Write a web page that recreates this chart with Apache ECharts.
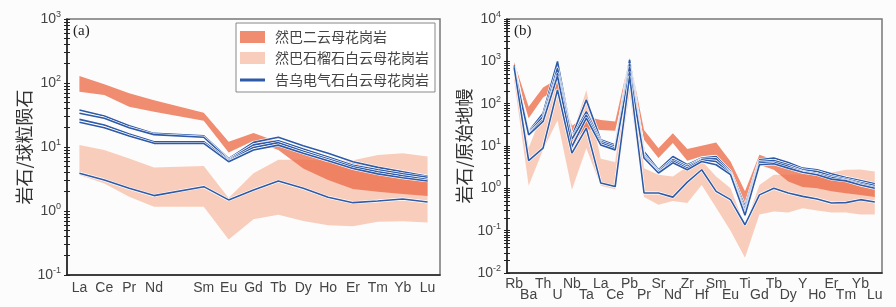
<!DOCTYPE html>
<html>
<head>
<meta charset="utf-8">
<script src="https://cdn.jsdelivr.net/npm/echarts@6/dist/echarts.min.js"></script>
<style>
  html, body { margin: 0; padding: 0; background: #fcfcfc; }
  #chart { width: 896px; height: 307px; }
</style>
</head>
<body>
<div id="chart"></div>
<script>
// (a) REE, chondrite normalised ('' = Pm slot)
const reeLabels = ['La', 'Ce', 'Pr', 'Nd', '', 'Sm', 'Eu', 'Gd', 'Tb', 'Dy', 'Ho', 'Er', 'Tm', 'Yb', 'Lu'];
const darkTopA = [129, 96, 69, 54, null, 34.4, 12.1, 16.5, 12.0, 8.5, 6.6, 5.6, 4.5, 3.8, 3.2];
const darkBotA = [73, 65, 42.7, 35.6, null, 25.7, 8.2, 12.5, 9.0, 4.6, 3.05, 2.2, 2.0, 1.85, 1.72];
const lightTopA = [10.7, 9.0, 6.6, 4.8, null, 5.05, 1.6, 3.9, 6.3, 6.3, 6.1, 6.2, 7.5, 8.0, 7.1];
const lightBotA = [3.65, 2.7, 1.67, 1.17, null, 1.17, 0.36, 0.74, 0.87, 0.70, 0.60, 0.58, 0.68, 0.69, 0.66];
const blueA = [
  [37.9, 30.5, 21.5, 16.3, null, 14.9, 6.6, 11.8, 14.2, 10.5, 8.0, 5.9, 4.8, 4.1, 3.5],
  [33.6, 28.1, 20, 15.6, null, 14.2, 6.3, 10.8, 12.5, 9.3, 7.0, 5.2, 4.4, 3.8, 3.35],
  [27, 22, 16, 12.1, null, 12.1, 6.1, 9.8, 11.7, 8.6, 6.5, 4.9, 4.1, 3.55, 3.1],
  [24.3, 20, 14.9, 11.4, null, 11.4, 5.9, 9.0, 10.7, 8.0, 6.1, 4.6, 3.8, 3.3, 2.95],
  [3.9, 3.05, 2.26, 1.74, null, 2.4, 1.49, 2.13, 2.94, 2.26, 1.64, 1.35, 1.43, 1.54, 1.38]
];

// (b) trace elements, primitive mantle normalised
const traceLabels = ['Rb', 'Ba', 'Th', 'U', 'Nb', 'Ta', 'La', 'Ce', 'Pb', 'Pr', 'Sr', 'Nd', 'Zr', 'Hf', 'Sm', 'Eu', 'Ti', 'Gd', 'Tb', 'Dy', 'Y', 'Ho', 'Er', 'Tm', 'Yb', 'Lu'];
const darkTopB = [950, 85, 240, 380, 30, 50, 41, 38, 1200, 24, 8.9, 20, 8.5, 10.1, 12.1, 4.3, 0.85, 6.2, 4.7, 3.3, 2.65, 2.37, 1.85, 1.6, 1.33, 1.15];
const darkBotB = [600, 45, 140, 230, 13, 25, 24, 23, 700, 14, 5.2, 11.7, 4.5, 5.7, 6.2, 2.5, 0.375, 3.6, 2.75, 1.45, 1.07, 1.0, 0.85, 0.77, 0.70, 0.62];
const lightTopB = [900, 9, 65, 520, 17, 210, 5, 4.2, 1150, 3.0, 2.1, 1.9, 3.3, 4.5, 1.9, 1.0, 0.13, 1.2, 2.1, 2.1, 2.1, 2.1, 2.37, 2.75, 2.8, 2.5];
const lightBotB = [350, 1.15, 8.1, 40, 0.93, 8.9, 1.15, 0.95, 177, 0.62, 0.41, 0.5, 0.45, 1.2, 0.35, 0.1, 0.023, 0.24, 0.285, 0.27, 0.34, 0.30, 0.27, 0.27, 0.24, 0.24];
const blueB = [
  [800, 22, 59.5, 990, 16.7, 123, 14, 10.6, 1080, 7.4, 2.75, 5.65, 3.6, 5.2, 5.65, 2.5, 0.375, 4.7, 5.2, 4.1, 3.0, 2.75, 2.2, 1.8, 1.53, 1.28],
  [750, 20.5, 49.5, 690, 15.6, 65, 12.8, 9.7, 900, 6.2, 2.5, 4.8, 3.3, 4.9, 5.0, 2.3, 0.31, 4.3, 4.55, 3.6, 2.75, 2.5, 1.95, 1.65, 1.38, 1.16],
  [700, 19.5, 41.5, 525, 14.5, 54, 11.7, 8.9, 750, 5.65, 2.3, 4.4, 3.0, 4.7, 4.3, 2.2, 0.26, 3.95, 4.1, 3.3, 2.5, 2.2, 1.8, 1.55, 1.28, 1.05],
  [650, 18.4, 38, 450, 9.7, 45.5, 10.6, 8.1, 570, 5.2, 2.3, 4.0, 2.75, 4.3, 3.6, 2.1, 0.23, 3.6, 3.8, 3.0, 2.4, 2.1, 1.65, 1.5, 1.2, 1.0],
  [700, 4.5, 8.9, 212, 6.8, 26.5, 1.33, 1.1, 450, 0.775, 0.775, 0.62, 1.4, 2.75, 0.845, 0.54, 0.138, 0.70, 1.0, 0.775, 0.645, 0.56, 0.45, 0.46, 0.54, 0.475]
];

const decadesA = [0.1, 1, 10, 100, 1000];
const decadesB = [0.01, 0.1, 1, 10, 100, 1000, 10000];

const nameDark = '然巴二云母花岗岩';
const nameLight = '然巴石榴石白云母花岗岩';
const nameBlue = '告乌电气石白云母花岗岩';
const colDark = 'rgba(236,111,76,0.8)';
const colLight = '#f9cdbb';
const colBlue = '#2e5aa7';
const cjk = '"Noto Sans CJK SC", sans-serif';
const latin = '"Liberation Sans", Arial, sans-serif';

function minorTicks(decades) {
  const out = [];
  decades.forEach((d, k) => {
    out.push(d);
    if (k < decades.length - 1) for (let m = 2; m <= 9; m++) out.push(+(d * m).toPrecision(3));
  });
  return out;
}

function band(name, top, bot, color, xi) {
  return {
    name: name,
    type: 'custom',
    xAxisIndex: xi,
    yAxisIndex: xi * 2,
    itemStyle: { color: color },
    data: [[0, 1]],
    renderItem: function (params, api) {
      const pts = [];
      top.forEach((v, i) => { if (v != null) pts.push(api.coord([i, v])); });
      for (let i = bot.length - 1; i >= 0; i--) {
        if (bot[i] != null) pts.push(api.coord([i, bot[i]]));
      }
      return { type: 'polygon', shape: { points: pts }, style: { fill: color } };
    }
  };
}

function lines(rows, xi) {
  const out = [];
  rows.forEach(r => {
    out.push({
      name: 'halo', type: 'line', xAxisIndex: xi, yAxisIndex: xi * 2,
      data: r, connectNulls: true, symbol: 'none', silent: true,
      lineStyle: { color: '#ffffff', width: 2.9 }
    });
    out.push({
      name: nameBlue, type: 'line', xAxisIndex: xi, yAxisIndex: xi * 2,
      data: r, connectNulls: true, symbol: 'none', showSymbol: false,
      lineStyle: { color: colBlue, width: 1.6 }, itemStyle: { color: colBlue }
    });
  });
  return out;
}

function xAxis(labels, gi, twoRows) {
  return {
    type: 'category', gridIndex: gi, data: labels, boundaryGap: true,
    axisLine: { lineStyle: { color: '#222', width: 1.6 } },
    axisTick: { alignWithLabel: true, inside: true, length: 4, lineStyle: { color: '#222' } },
    axisLabel: {
      interval: 0, color: '#444', fontFamily: latin, fontSize: 14,
      margin: twoRows ? 6 : 5, lineHeight: twoRows ? 11 : 16,
      formatter: (v, i) => (twoRows && i % 2 ? '\n' + v : v)
    },
    splitLine: { show: false }
  };
}

function yAxes(decades, gi, title) {
  const min = decades[0], max = decades[decades.length - 1];
  return [
    {
      type: 'log', gridIndex: gi, position: 'left', min: min, max: max, logBase: 10,
      name: title, nameLocation: 'middle', nameGap: 31, nameRotate: 90,
      nameTextStyle: { fontFamily: cjk, fontSize: 18, color: '#333' },
      axisLine: { show: true, lineStyle: { color: '#222', width: 1.6 } },
      axisTick: { show: false },
      axisLabel: {
        customValues: decades, margin: 6,
        formatter: v => '{b|10}{s|' + Math.round(Math.log10(v)) + '}',
        rich: {
          b: { fontSize: 14, fontFamily: latin, color: '#444' },
          s: { fontSize: 9, fontFamily: latin, color: '#444', padding: [0, 0, 9, 0] }
        }
      },
      splitLine: { show: false }
    },
    {
      type: 'log', gridIndex: gi, position: 'left', min: min, max: max, logBase: 10, offset: -3,
      axisLine: { show: false },
      axisTick: { show: true, customValues: minorTicks(decades), length: 6, lineStyle: { color: '#222', width: 1 } },
      axisLabel: { show: false },
      splitLine: { show: false }
    }
  ];
}

const chart = echarts.init(document.getElementById('chart'));
chart.setOption({
  backgroundColor: '#fcfcfc',
  animation: false,
  title: [
    { text: '(a)', left: 73, top: 24, padding: 0, textStyle: { fontFamily: '"Liberation Serif", serif', fontSize: 15, fontWeight: 'normal', color: '#222' } },
    { text: '(b)', left: 514, top: 24, padding: 0, textStyle: { fontFamily: '"Liberation Serif", serif', fontSize: 15, fontWeight: 'normal', color: '#222' } }
  ],
  legend: [
    {
      left: 236, top: 23, orient: 'vertical',
      padding: [7, 6, 27, 4], itemGap: 7, itemWidth: 25, itemHeight: 12,
      backgroundColor: '#ffffff', borderColor: '#888', borderWidth: 1,
      textStyle: { fontFamily: cjk, fontSize: 14, color: '#444', lineHeight: 14, padding: [0, 0, 0, 5] },
      data: [
        { name: nameDark, icon: 'rect' },
        { name: nameLight, icon: 'rect' }
      ]
    },
    {
      left: 240, top: 73, orient: 'vertical', padding: 0,
      itemWidth: 25, itemHeight: 3,
      textStyle: { fontFamily: cjk, fontSize: 14, color: '#444', lineHeight: 14, padding: [0, 0, 0, 5] },
      data: [{ name: nameBlue, icon: 'rect' }]
    }
  ],
  grid: [
    { left: 67, top: 19, width: 373, height: 256, show: true, borderColor: '#777', borderWidth: 1.5, backgroundColor: 'transparent' },
    { left: 507, top: 19, width: 375, height: 254, show: true, borderColor: '#777', borderWidth: 1.5, backgroundColor: 'transparent' }
  ],
  xAxis: [xAxis(reeLabels, 0, false), xAxis(traceLabels, 1, true)],
  yAxis: yAxes(decadesA, 0, '岩石/球粒陨石').concat(yAxes(decadesB, 1, '岩石/原始地幔')),
  series: [
    band(nameLight, lightTopA, lightBotA, colLight, 0),
    band(nameDark, darkTopA, darkBotA, colDark, 0)
  ].concat(lines(blueA, 0)).concat([
    band(nameLight, lightTopB, lightBotB, colLight, 1),
    band(nameDark, darkTopB, darkBotB, colDark, 1)
  ]).concat(lines(blueB, 1))
});
</script>
</body>
</html>
